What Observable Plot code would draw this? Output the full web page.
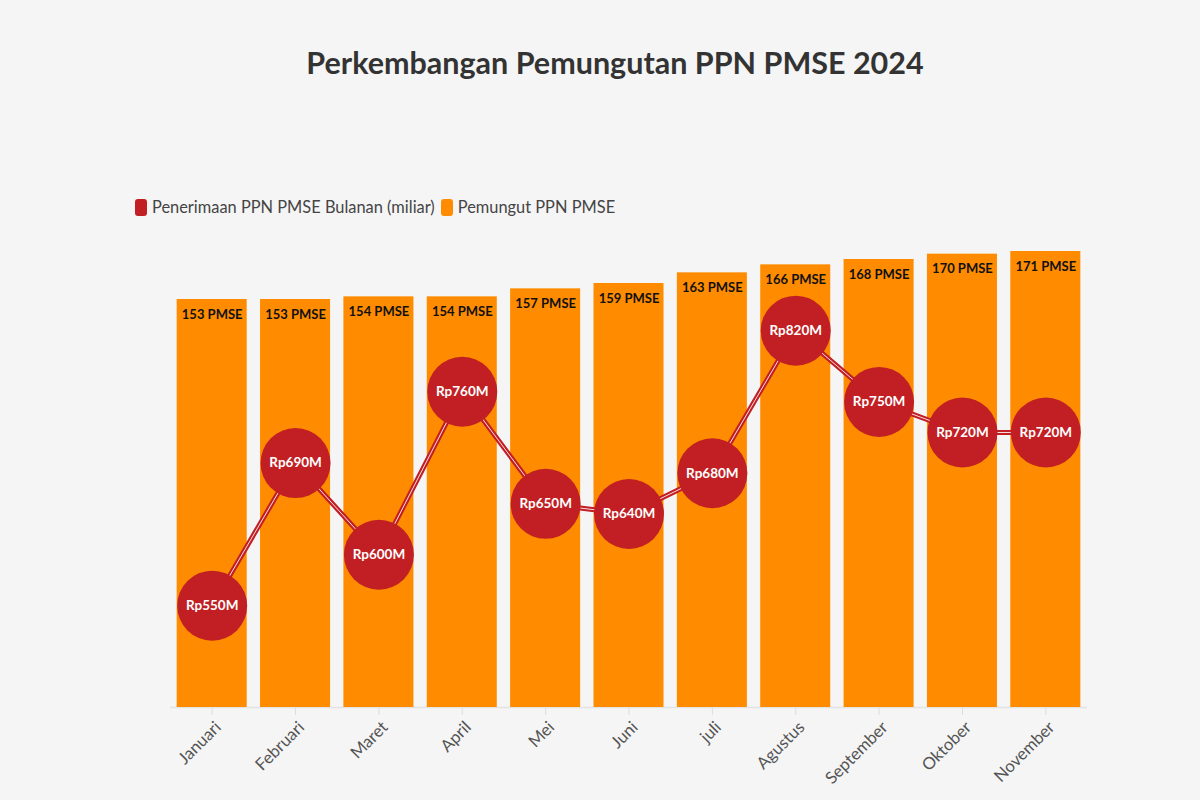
<!DOCTYPE html>
<html>
<head>
<meta charset="utf-8">
<script src="https://cdn.jsdelivr.net/npm/d3@7"></script>
<script src="https://cdn.jsdelivr.net/npm/@observablehq/plot@0.6"></script>
<style>
  html, body { margin: 0; padding: 0; background: #f5f5f5; }
  body { width: 1200px; height: 800px; position: relative; overflow: hidden; font-family: Lato, "Noto Sans", sans-serif; }
  #title { position: absolute; left: 0; width: 1230px; top: 42px; text-align: center; font-size: 30.5px; font-weight: 700; color: #333; line-height: 40px; }
  #legend { position: absolute; left: 135px; top: 196px; display: flex; align-items: center; font-size: 16.4px; color: #444; line-height: 22px; }
  .item { display: flex; align-items: center; margin-right: 6px; }
  .sw { width: 12px; height: 17px; border-radius: 3px; margin-right: 5px; }
  #chart { position: absolute; left: 0; top: 220px; width: 1200px; height: 580px; }
  #chart svg { position: absolute; left: 0; top: 0; }
</style>
</head>
<body>
<div id="title"></div>
<div id="legend"></div>
<div id="chart"></div>
<script>
const titleText = "Perkembangan Pemungutan PPN PMSE 2024";
const months = ["Januari","Februari","Maret","April","Mei","Juni","juli","Agustus","September","Oktober","November"];
const pemungut = [153,153,154,154,157,159,163,166,168,170,171];
const penerimaan = [550,690,600,760,650,640,680,820,750,720,720];
const seriesNames = ["Penerimaan PPN PMSE Bulanan (miliar)", "Pemungut PPN PMSE"];
const seriesColors = ["#c21f24", "#ff8c00"];

document.getElementById("title").textContent = titleText;
const legend = document.getElementById("legend");
seriesNames.forEach((n, i) => {
  const it = document.createElement("div"); it.className = "item";
  const sw = document.createElement("div"); sw.className = "sw"; sw.style.background = seriesColors[i];
  const t = document.createElement("span"); t.textContent = n;
  it.appendChild(sw); it.appendChild(t); legend.appendChild(it);
});

const rows = months.map((m, i) => ({month: m, pemungut: pemungut[i], penerimaan: penerimaan[i]}));
const font = "Lato, 'Noto Sans', sans-serif";
const common = {
  width: 1200, height: 580,
  marginTop: 7, marginBottom: 93, marginLeft: 170, marginRight: 113,
  style: {background: "transparent", fontFamily: font, fontSize: "15px", overflow: "visible"},
  x: {domain: months, paddingInner: 0.16, paddingOuter: 0.08, label: null, round: false}
};

const bars = Plot.plot({
  ...common,
  y: {domain: [0, 180], axis: null},
  marks: [
    Plot.ruleY([0], {stroke: "#e3e3e3", strokeWidth: 1.5}),
    Plot.barY(rows, {x: "month", y: "pemungut", fill: seriesColors[1]}),
    Plot.text(rows, {x: "month", y: "pemungut", text: d => `${d.pemungut} PMSE`, dy: 15, fill: "#111", fontWeight: 700, fontSize: 13}),
    Plot.axisX({tickRotate: -45, tickSize: 8, tickPadding: 5, fontSize: 16.8, stroke: "#dddddd", fill: "#555", label: null})
  ]
});

// nudge the rotated month labels to sit where the reference draws them
d3.select(bars).selectAll("text").each(function () {
  if (months.includes(this.textContent)) {
    const t = this.getAttribute("transform") || "";
    this.setAttribute("transform", `translate(6,4) ${t}`);
  }
});

const line = Plot.plot({
  ...common,
  x: {...common.x, axis: null},
  y: {domain: [450, 921.27], axis: null},
  marks: [
    Plot.lineY(rows, {x: "month", y: "penerimaan", stroke: seriesColors[0], strokeWidth: 5}),
    Plot.lineY(rows, {x: "month", y: "penerimaan", stroke: "#ffffff", strokeWidth: 1, strokeOpacity: 0.85}),
    Plot.dot(rows, {x: "month", y: "penerimaan", r: 35, fill: seriesColors[0]}),
    Plot.text(rows, {x: "month", y: "penerimaan", text: d => `Rp${d.penerimaan}M`, fill: "white", fontWeight: 700, fontSize: 13.5})
  ]
});

const chart = document.getElementById("chart");
chart.appendChild(bars);
chart.appendChild(line);
</script>
</body>
</html>
